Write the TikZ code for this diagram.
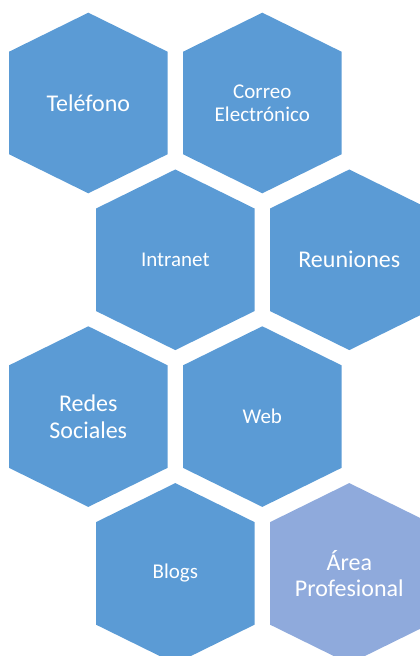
\documentclass[tikz,border=0pt]{standalone}
\usepackage{fontspec}
\setmainfont{Carlito}
\usetikzlibrary{calc}
\definecolor{HexBlue}{HTML}{5B9BD5}
\definecolor{HexLight}{HTML}{8FAADC}
\tikzset{
  hexcell/.style={
    minimum width=158.4pt,
    minimum height=180.6pt,
    inner sep=0pt,
    outer sep=0pt,
    align=center,
    text=white,
    font=\fontsize{21}{23}\selectfont,
    path picture={
      \fill[#1] (path picture bounding box.north)
        -- ([yshift=-39pt]path picture bounding box.north east)
        -- ([yshift=39pt]path picture bounding box.south east)
        -- (path picture bounding box.south)
        -- ([yshift=39pt]path picture bounding box.south west)
        -- ([yshift=-39pt]path picture bounding box.north west) -- cycle;
    }
  },
  hexcell/.default=HexBlue,
  bigtext/.style={font=\fontsize{24}{26.5}\selectfont}
}
\begin{document}
\begin{tikzpicture}[x=1pt,y=1pt]
  \useasboundingbox (0,0) rectangle (420,656);
  % first row
  \node[hexcell,bigtext] (tel) at (88.3,553) {Teléfono};
  \node[hexcell] (correo) at (262.3,553) {Correo\\Electrónico};
  % second row
  \node[hexcell] (intra) at (175.3,396.2) {Intranet};
  \node[hexcell,bigtext] (reun) at (349.3,396.2) {Reuniones};
  % third row
  \node[hexcell,bigtext] (redes) at (88.3,239.4) {Redes\\Sociales};
  \node[hexcell] (web) at (262.3,239.4) {Web};
  % last row
  \node[hexcell] (blogs) at (175.3,82.6) {Blogs};
  \node[hexcell=HexLight,bigtext] (area) at (349.3,82.6) {Área\\Profesional};
\end{tikzpicture}
\end{document}
